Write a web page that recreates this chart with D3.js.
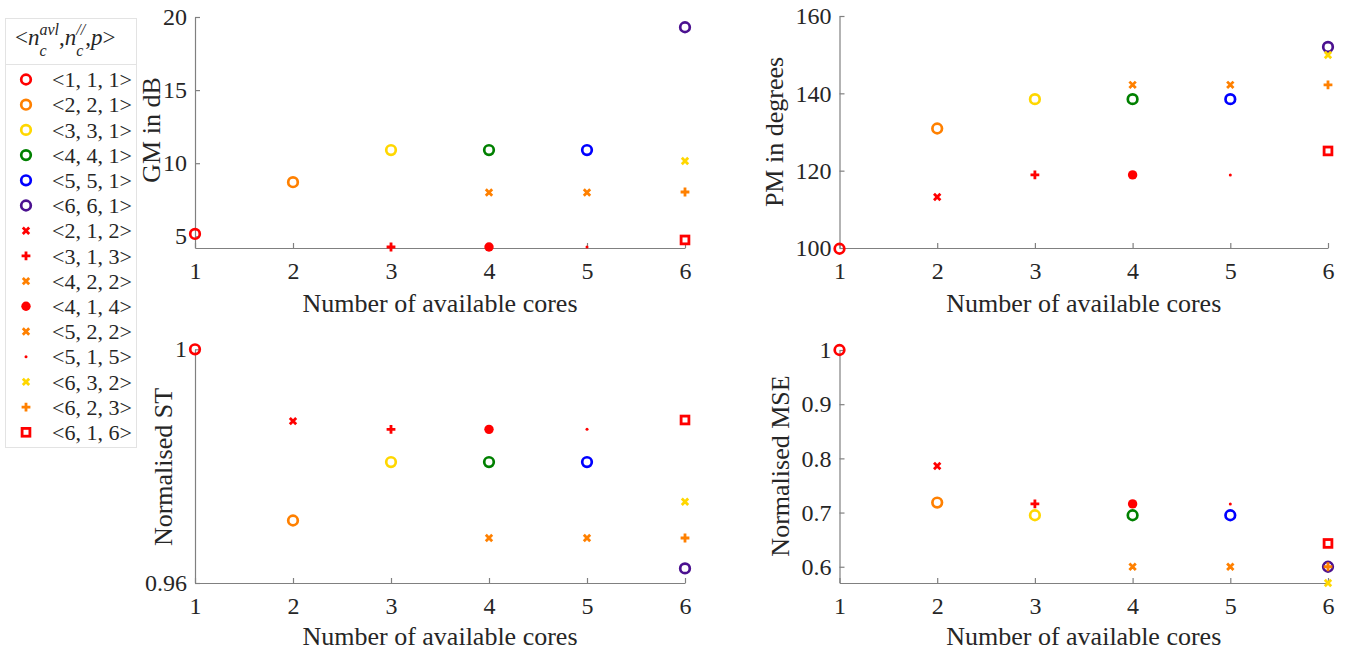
<!DOCTYPE html>
<html><head><meta charset="utf-8">
<script src="https://cdn.jsdelivr.net/npm/d3@7"></script>
<style>
body{margin:0;background:#fff}
svg{display:block}
</style>
</head><body>
<svg id="c" width="1347" height="651"></svg>
<script>
// ---------- data ----------
const seriesLabels = ["<1, 1, 1>","<2, 2, 1>","<3, 3, 1>","<4, 4, 1>","<5, 5, 1>","<6, 6, 1>",
  "<2, 1, 2>","<3, 1, 3>","<4, 2, 2>","<4, 1, 4>","<5, 2, 2>","<5, 1, 5>","<6, 3, 2>","<6, 2, 3>","<6, 1, 6>"];
const seriesCores = [1,2,3,4,5,6,2,3,4,4,5,5,6,6,6];
const gmValues  = [5.16, 8.7, 10.9, 10.9, 10.9, 19.3, null, 4.27, 8.0, 4.27, 8.0, 4.27, 10.15, 8.03, 4.75];
const pmValues  = [99.8, 130.9, 138.5, 138.5, 138.5, 152.0, 113.2, 118.9, 142.2, 118.9, 142.2, 118.9, 149.9, 142.2, 125.1];
const stValues  = [1.0, 0.9707, 0.9807, 0.9807, 0.9807, 0.9625, 0.9877, 0.9863, 0.9677, 0.9863, 0.9677, 0.9863, 0.9739, 0.9677, 0.9879];
const mseValues = [1.0, 0.7185, 0.695, 0.695, 0.695, 0.6, 0.786, 0.716, 0.6, 0.716, 0.6, 0.716, 0.57, 0.6, 0.643];
const xTicks   = [1,2,3,4,5,6];
const gmTicks  = [5,10,15,20];
const pmTicks  = [100,120,140,160];
const stTicks  = [0.96,1];
const mseTicks = [0.6,0.7,0.8,0.9,1];

// ---------- styles ----------
const FONT = '"Liberation Serif","Times New Roman",Times,serif';
const seriesColors = ["#ff0000","#ff8000","#ffd700","#008000","#0000ff","#4b1190",
  "#ff0000","#ff0000","#ff8000","#ff0000","#ff8000","#ff0000","#ffd700","#ff8000","#ff0000"];
const seriesMarkers = ["o","o","o","o","o","o","x","+","x","filled","x","dot","x","+","s"];

const svg = d3.select("#c");

function drawMarker(g, type, color){
  if(type==="o"){
    g.append("circle").attr("r",4.8).attr("fill","none").attr("stroke",color).attr("stroke-width",2.7);
  } else if(type==="filled"){
    g.append("circle").attr("r",4.7).attr("fill",color);
  } else if(type==="dot"){
    g.append("circle").attr("r",1.5).attr("fill",color);
  } else if(type==="x"){
    const a=3.2;
    g.append("path").attr("d",`M${-a},${-a}L${a},${a}M${-a},${a}L${a},${-a}`)
      .attr("stroke",color).attr("stroke-width",2.8).attr("fill","none");
  } else if(type==="+"){
    const a=4.4;
    g.append("path").attr("d",`M${-a},0L${a},0M0,${-a}L0,${a}`)
      .attr("stroke",color).attr("stroke-width",2.8).attr("fill","none");
  } else if(type==="s"){
    const a=3.9;
    g.append("rect").attr("x",-a).attr("y",-a).attr("width",2*a).attr("height",2*a)
      .attr("fill","none").attr("stroke",color).attr("stroke-width",2.8);
  }
}

function txt(sel, size){
  return sel.style("font-family",FONT).style("font-size",size+"px").style("fill","#262626");
}

function panel(cfg){
  const x = d3.scaleLinear().domain([1,6]).range([cfg.x0,cfg.x1]);
  const y = d3.scaleLinear().domain(cfg.domain).range([cfg.y1,cfg.y0]);
  const g = svg.append("g");
  const xa = g.append("g").attr("transform",`translate(0,${cfg.y1})`)
    .call(d3.axisBottom(x).tickValues(xTicks).tickFormat(d3.format("d")).tickSizeInner(-5).tickSizeOuter(0).tickPadding(14));
  const ya = g.append("g").attr("transform",`translate(${cfg.x0},0)`)
    .call(d3.axisLeft(y).tickValues(cfg.ticks).tickFormat(cfg.fmt).tickSizeInner(-5).tickSizeOuter(0).tickPadding(8));
  [xa,ya].forEach(a=>{
    a.select(".domain").attr("stroke","#808080").attr("stroke-width",1.2);
    a.selectAll(".tick line").attr("stroke","#808080").attr("stroke-width",1.2);
    txt(a.selectAll(".tick text"),24);
  });
  txt(g.append("text").attr("x",(cfg.x0+cfg.x1)/2).attr("y",cfg.xlabY)
    .attr("text-anchor","middle"),26).text("Number of available cores");
  txt(g.append("text").attr("transform",`translate(${cfg.ylabX},${cfg.ylabCY}) rotate(-90)`)
    .attr("text-anchor","middle"),26).text(cfg.ylabel);
  const pts = g.append("g");
  cfg.values.forEach((v,i)=>{
    if(v===null) return;
    const m = pts.append("g").attr("transform",`translate(${x(seriesCores[i])},${y(v)})`);
    drawMarker(m, seriesMarkers[i], seriesColors[i]);
  });
}

const f1 = d => d===1 ? "1" : d3.format(".2f")(d);
const f2 = d => d===1 ? "1" : d3.format(".1f")(d);

panel({x0:195,x1:685,y0:17,y1:248,domain:[4.2,20],ticks:gmTicks,fmt:d3.format("d"),values:gmValues,
  ylabel:"GM in dB",ylabX:160,ylabCY:130,xlabY:312});
panel({x0:839.5,x1:1328,y0:16,y1:248,domain:[100,160],ticks:pmTicks,fmt:d3.format("d"),values:pmValues,
  ylabel:"PM in degrees",ylabX:783,ylabCY:132,xlabY:312});
panel({x0:195,x1:685,y0:349.3,y1:583,domain:[0.96,1],ticks:stTicks,fmt:f1,values:stValues,
  ylabel:"Normalised ST",ylabX:172,ylabCY:467,xlabY:645});
panel({x0:839.5,x1:1328,y0:350,y1:583,domain:[0.57,1],ticks:mseTicks,fmt:f2,values:mseValues,
  ylabel:"Normalised MSE",ylabX:789,ylabCY:466,xlabY:645});

// ---------- legend ----------
const lg = svg.append("g");
lg.append("rect").attr("x",5.5).attr("y",18.5).attr("width",131).attr("height",429)
  .attr("fill","#fff").attr("stroke","#e3e3e3").attr("stroke-width",1);
lg.append("line").attr("x1",5.5).attr("x2",136.5).attr("y1",64.5).attr("y2",64.5)
  .attr("stroke","#e3e3e3").attr("stroke-width",1);

// header  <n_c^avl, n_c^//, p>
(function(){
  const base = 45, big = 23, small = 16;
  let cx = 15;
  function put(str, dy, size, italic){
    const t = txt(lg.append("text").attr("x",cx).attr("y",base+dy),size)
      .style("font-style",italic?"italic":"normal").text(str);
    return t.node().getComputedTextLength();
  }
  cx += put("<",0,big,false);
  cx += put("n",0,big,true);
  let w1 = put("avl",-10,small,true);
  let w2 = put("c",11,small,true);
  cx += Math.max(w1,w2);
  cx += put(",",0,big,false);
  cx += put("n",0,big,true);
  w1 = put("//",-10,small,true);
  w2 = put("c",11,small,true);
  cx += Math.max(w1,w2);
  cx += put(",",0,big,false);
  cx += put("p",0,big,true);
  cx += put(">",0,big,false);
})();

seriesLabels.forEach((lab,i)=>{
  const yy = 79.5 + i*25.2;
  const m = lg.append("g").attr("transform",`translate(26,${yy})`);
  drawMarker(m, seriesMarkers[i], seriesColors[i]);
  txt(lg.append("text").attr("x",52).attr("y",yy).attr("dy","0.35em"),22).text(lab);
});
</script>
</body></html>
